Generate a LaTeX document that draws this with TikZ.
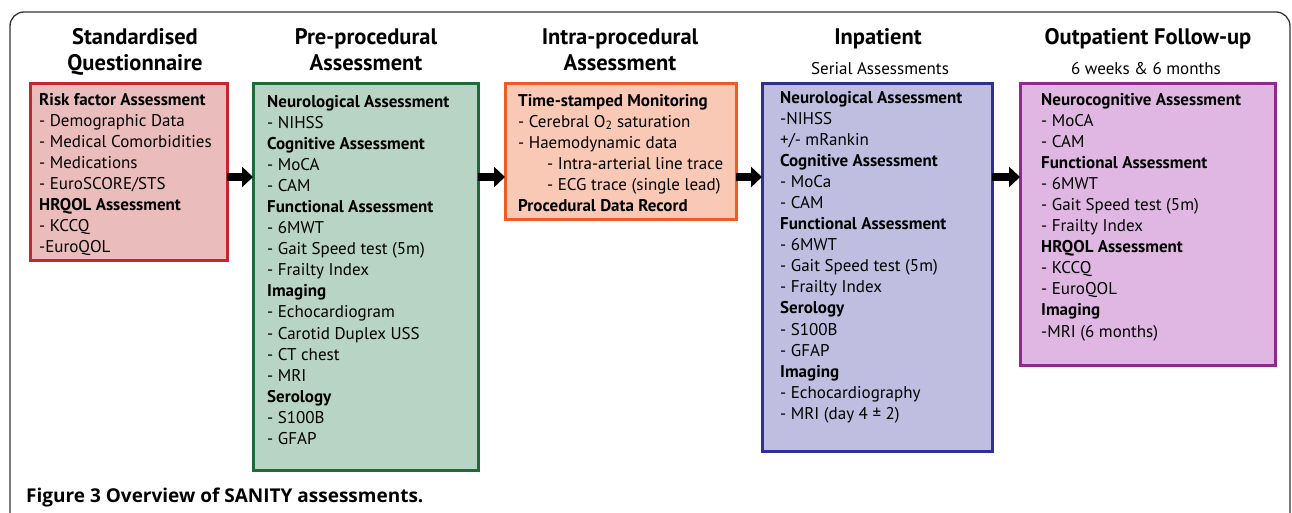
\documentclass[tikz,border=0pt]{standalone}
\usepackage{fontspec}
\setmainfont{PT Sans}
\newfontfamily\capfont{Open Sans}
\usetikzlibrary{arrows.meta}
\definecolor{redB}{HTML}{C1272D}\definecolor{redF}{HTML}{EBBCBC}
\definecolor{grnB}{HTML}{1E6B3A}\definecolor{grnF}{HTML}{B7D4C4}
\definecolor{orgB}{HTML}{F05A24}\definecolor{orgF}{HTML}{F9C9B5}
\definecolor{bluB}{HTML}{2E3192}\definecolor{bluF}{HTML}{C0BEE0}
\definecolor{purB}{HTML}{92278F}\definecolor{purF}{HTML}{E0B7E3}
\definecolor{frameC}{HTML}{333333}
\begin{document}
\begin{tikzpicture}[x=1pt,y=-1pt,
  box/.style={draw, line width=3pt, anchor=north west, inner sep=0pt, outer sep=0pt},
  body/.style={anchor=north west, align=left, inner sep=0pt, font=\fontsize{17}{21.07}\selectfont},
  ttl/.style={font=\bfseries\fontsize{22.5}{26}\selectfont, inner sep=0pt, anchor=base},
  sub/.style={font=\fontsize{17}{20}\selectfont, inner sep=0pt, anchor=base},
  arr/.style={line width=8pt, -{Triangle[length=11pt,width=20pt]}},
]
\useasboundingbox[fill=white] (0,0) rectangle (1292,513);
\draw[frameC, line width=1.3pt, rounded corners=14pt] (10,12) rectangle (1290,600);

% titles
\node[ttl] (t1a) at (135,45) {Standardised};
\node[ttl] (t1b) at (135,71) {Questionnaire};
\node[ttl] (t2a) at (366,45) {Pre-procedural};
\node[ttl] (t2b) at (366,71) {Assessment};
\node[ttl] (t3a) at (620,45) {Intra-procedural};
\node[ttl] (t3b) at (620,71) {Assessment};
\node[ttl] (t4a) at (878,45) {Inpatient};
\node[sub] (t4b) at (880,75) {Serial Assessments};
\node[ttl] (t5a) at (1148,45) {Outpatient Follow-up};
\node[sub] (t5b) at (1146,75) {6 weeks \& 6 months};

% boxes
\node[box, draw=redB, fill=redF, minimum width=197pt, minimum height=176pt] (b1) at (30,84) {};
\node[box, draw=grnB, fill=grnF, minimum width=225pt, minimum height=386pt] (b2) at (253,84) {};
\node[box, draw=orgB, fill=orgF, minimum width=231pt, minimum height=135pt] (b3) at (505,84) {};
\node[box, draw=bluB, fill=bluF, minimum width=230pt, minimum height=367pt] (b4) at (762,84) {};
\node[box, draw=purB, fill=purF, minimum width=255pt, minimum height=281pt] (b5) at (1020,84) {};

% texts
\node[body] (x1) at (39,90.3) {\strut\textbf{Risk factor Assessment}\\
- Demographic Data\\
- Medical Comorbidities\\
- Medications\\
- EuroSCORE/STS\\
\textbf{HRQOL Assessment}\\
- KCCQ\\
-EuroQOL};

\node[body] (x2) at (267,92.3) {\strut\textbf{Neurological Assessment}\\
- NIHSS\\
\textbf{Cognitive Assessment}\\
- MoCA\\
- CAM\\
\textbf{Functional Assessment}\\
- 6MWT\\
- Gait Speed test (5m)\\
- Frailty Index\\
\textbf{Imaging}\\
- Echocardiogram\\
- Carotid Duplex USS\\
- CT chest\\
- MRI\\
\textbf{Serology}\\
- S100B\\
- GFAP};

\node[body] (x3) at (518,91.3) {\strut\textbf{Time-stamped Monitoring}\\
- Cerebral O\textsubscript{2} saturation\\
- Haemodynamic data\\
\hspace*{29pt}- Intra-arterial line trace\\
\hspace*{29pt}- ECG trace (single lead)\\
\textbf{Procedural Data Record}};

\node[body] (x4) at (780,88.3) {\strut\textbf{Neurological Assessment}\\
-NIHSS\\
+/- mRankin\\
\textbf{Cognitive Assessment}\\
- MoCa\\
- CAM\\
\textbf{Functional Assessment}\\
- 6MWT\\
- Gait Speed test (5m)\\
- Frailty Index\\
\textbf{Serology}\\
- S100B\\
- GFAP\\
\textbf{Imaging}\\
- Echocardiography\\
- MRI (day 4 ± 2)};

\node[body] (x5) at (1041,90.3) {\strut\textbf{Neurocognitive Assessment}\\
- MoCA\\
- CAM\\
\textbf{Functional Assessment}\\
- 6MWT\\
- Gait Speed test (5m)\\
- Frailty Index\\
\textbf{HRQOL Assessment}\\
- KCCQ\\
- EuroQOL\\
\textbf{Imaging}\\
-MRI (6 months)};

% arrows
\coordinate (ay) at (0,177);
\draw[arr] (b1.east |- ay) -- (b2.west |- ay);
\draw[arr] (b2.east |- ay) -- (b3.west |- ay);
\draw[arr] (b3.east |- ay) -- (b4.west |- ay);
\draw[arr] (b4.east |- ay) -- (b5.west |- ay);

% caption
\node[anchor=base west, inner sep=0pt, font=\capfont\bfseries\fontsize{19}{22}\selectfont] (cap) at (26,502) {Figure 3 Overview of SANITY assessments.};
\end{tikzpicture}
\end{document}
